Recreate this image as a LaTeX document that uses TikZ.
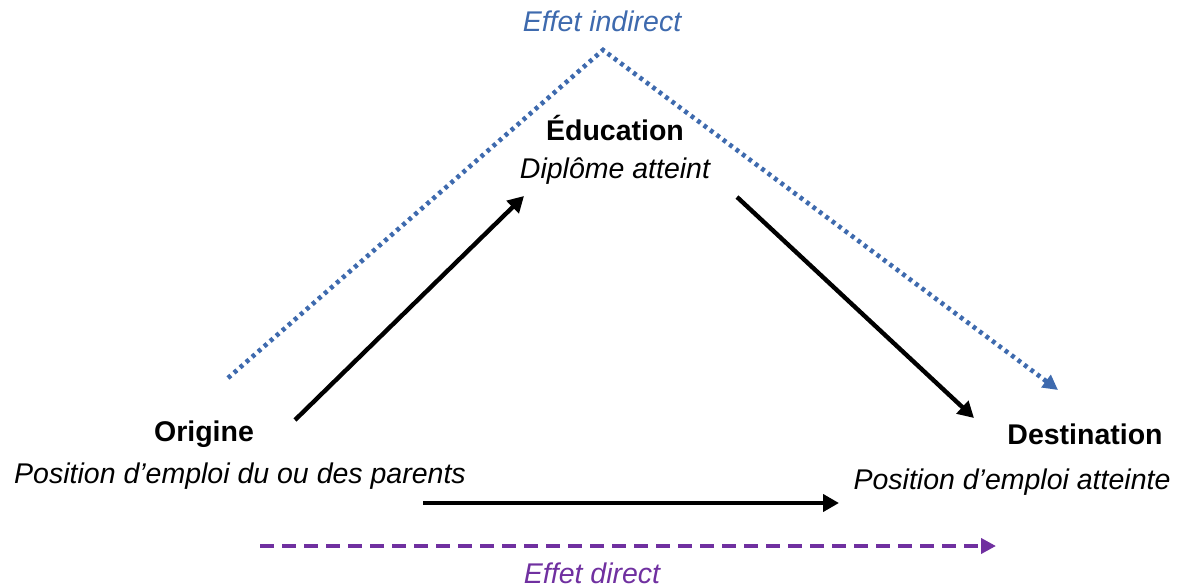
\documentclass[tikz,border=0pt]{standalone}
\usepackage{fontspec}
\setmainfont{Liberation Sans}
\usetikzlibrary{arrows.meta}
\definecolor{indblue}{HTML}{3E6AAE}
\definecolor{dirpurple}{HTML}{7030A0}
\tikzset{
  lbl/.style={inner sep=0pt, font=\fontsize{28.5}{32}\selectfont\bfseries},
  sub/.style={inner sep=0pt, font=\fontsize{28.5}{32}\selectfont\itshape},
  blk/.style={line width=4.4pt, -{Triangle[length=16pt,width=17pt]}},
  dots/.style={indblue, line width=4.6pt, dash pattern=on 3.8pt off 4.2pt, -{Triangle[length=15pt,width=15pt]}},
  dsh/.style={dirpurple, line width=4.4pt, dash pattern=on 14pt off 8pt, -{Triangle[length=15pt,width=15pt]}},
}
\begin{document}
\begin{tikzpicture}[x=1pt,y=-1pt]
\useasboundingbox (0,0) rectangle (1182,588);
\node[sub, text=indblue] (ind) at (602,21) {Effet indirect};
\node[lbl] (edu) at (615,128) {Éducation};
\node[sub] (dip) at (615,171) {Diplôme atteint};
\node[lbl] (ori) at (204,434) {Origine};
\node[sub] (pos1) at (240,476) {Position d’emploi du ou des parents};
\node[lbl] (des) at (1085,434) {Destination};
\node[sub] (pos2) at (1012,482) {Position d’emploi atteinte};
\node[sub, text=dirpurple] (dir) at (592,573) {Effet direct};
\coordinate (a1) at (295,420);
\coordinate (a2) at (524,196);
\coordinate (b1) at (737,197);
\coordinate (b2) at (974,418);
\coordinate (c1) at (423,503);
\coordinate (c2) at (839,503);
\coordinate (d1) at (260,546);
\coordinate (d2) at (996,546);
\coordinate (e1) at (228,378);
\coordinate (e2) at (603,50);
\coordinate (e3) at (1058,390);
\draw[blk] (a1) -- (a2);
\draw[blk] (b1) -- (b2);
\draw[blk] (c1) -- (c2);
\draw[dsh] (d1) -- (d2);
\draw[dots] (e1) -- (e2) -- (e3);
\end{tikzpicture}
\end{document}
